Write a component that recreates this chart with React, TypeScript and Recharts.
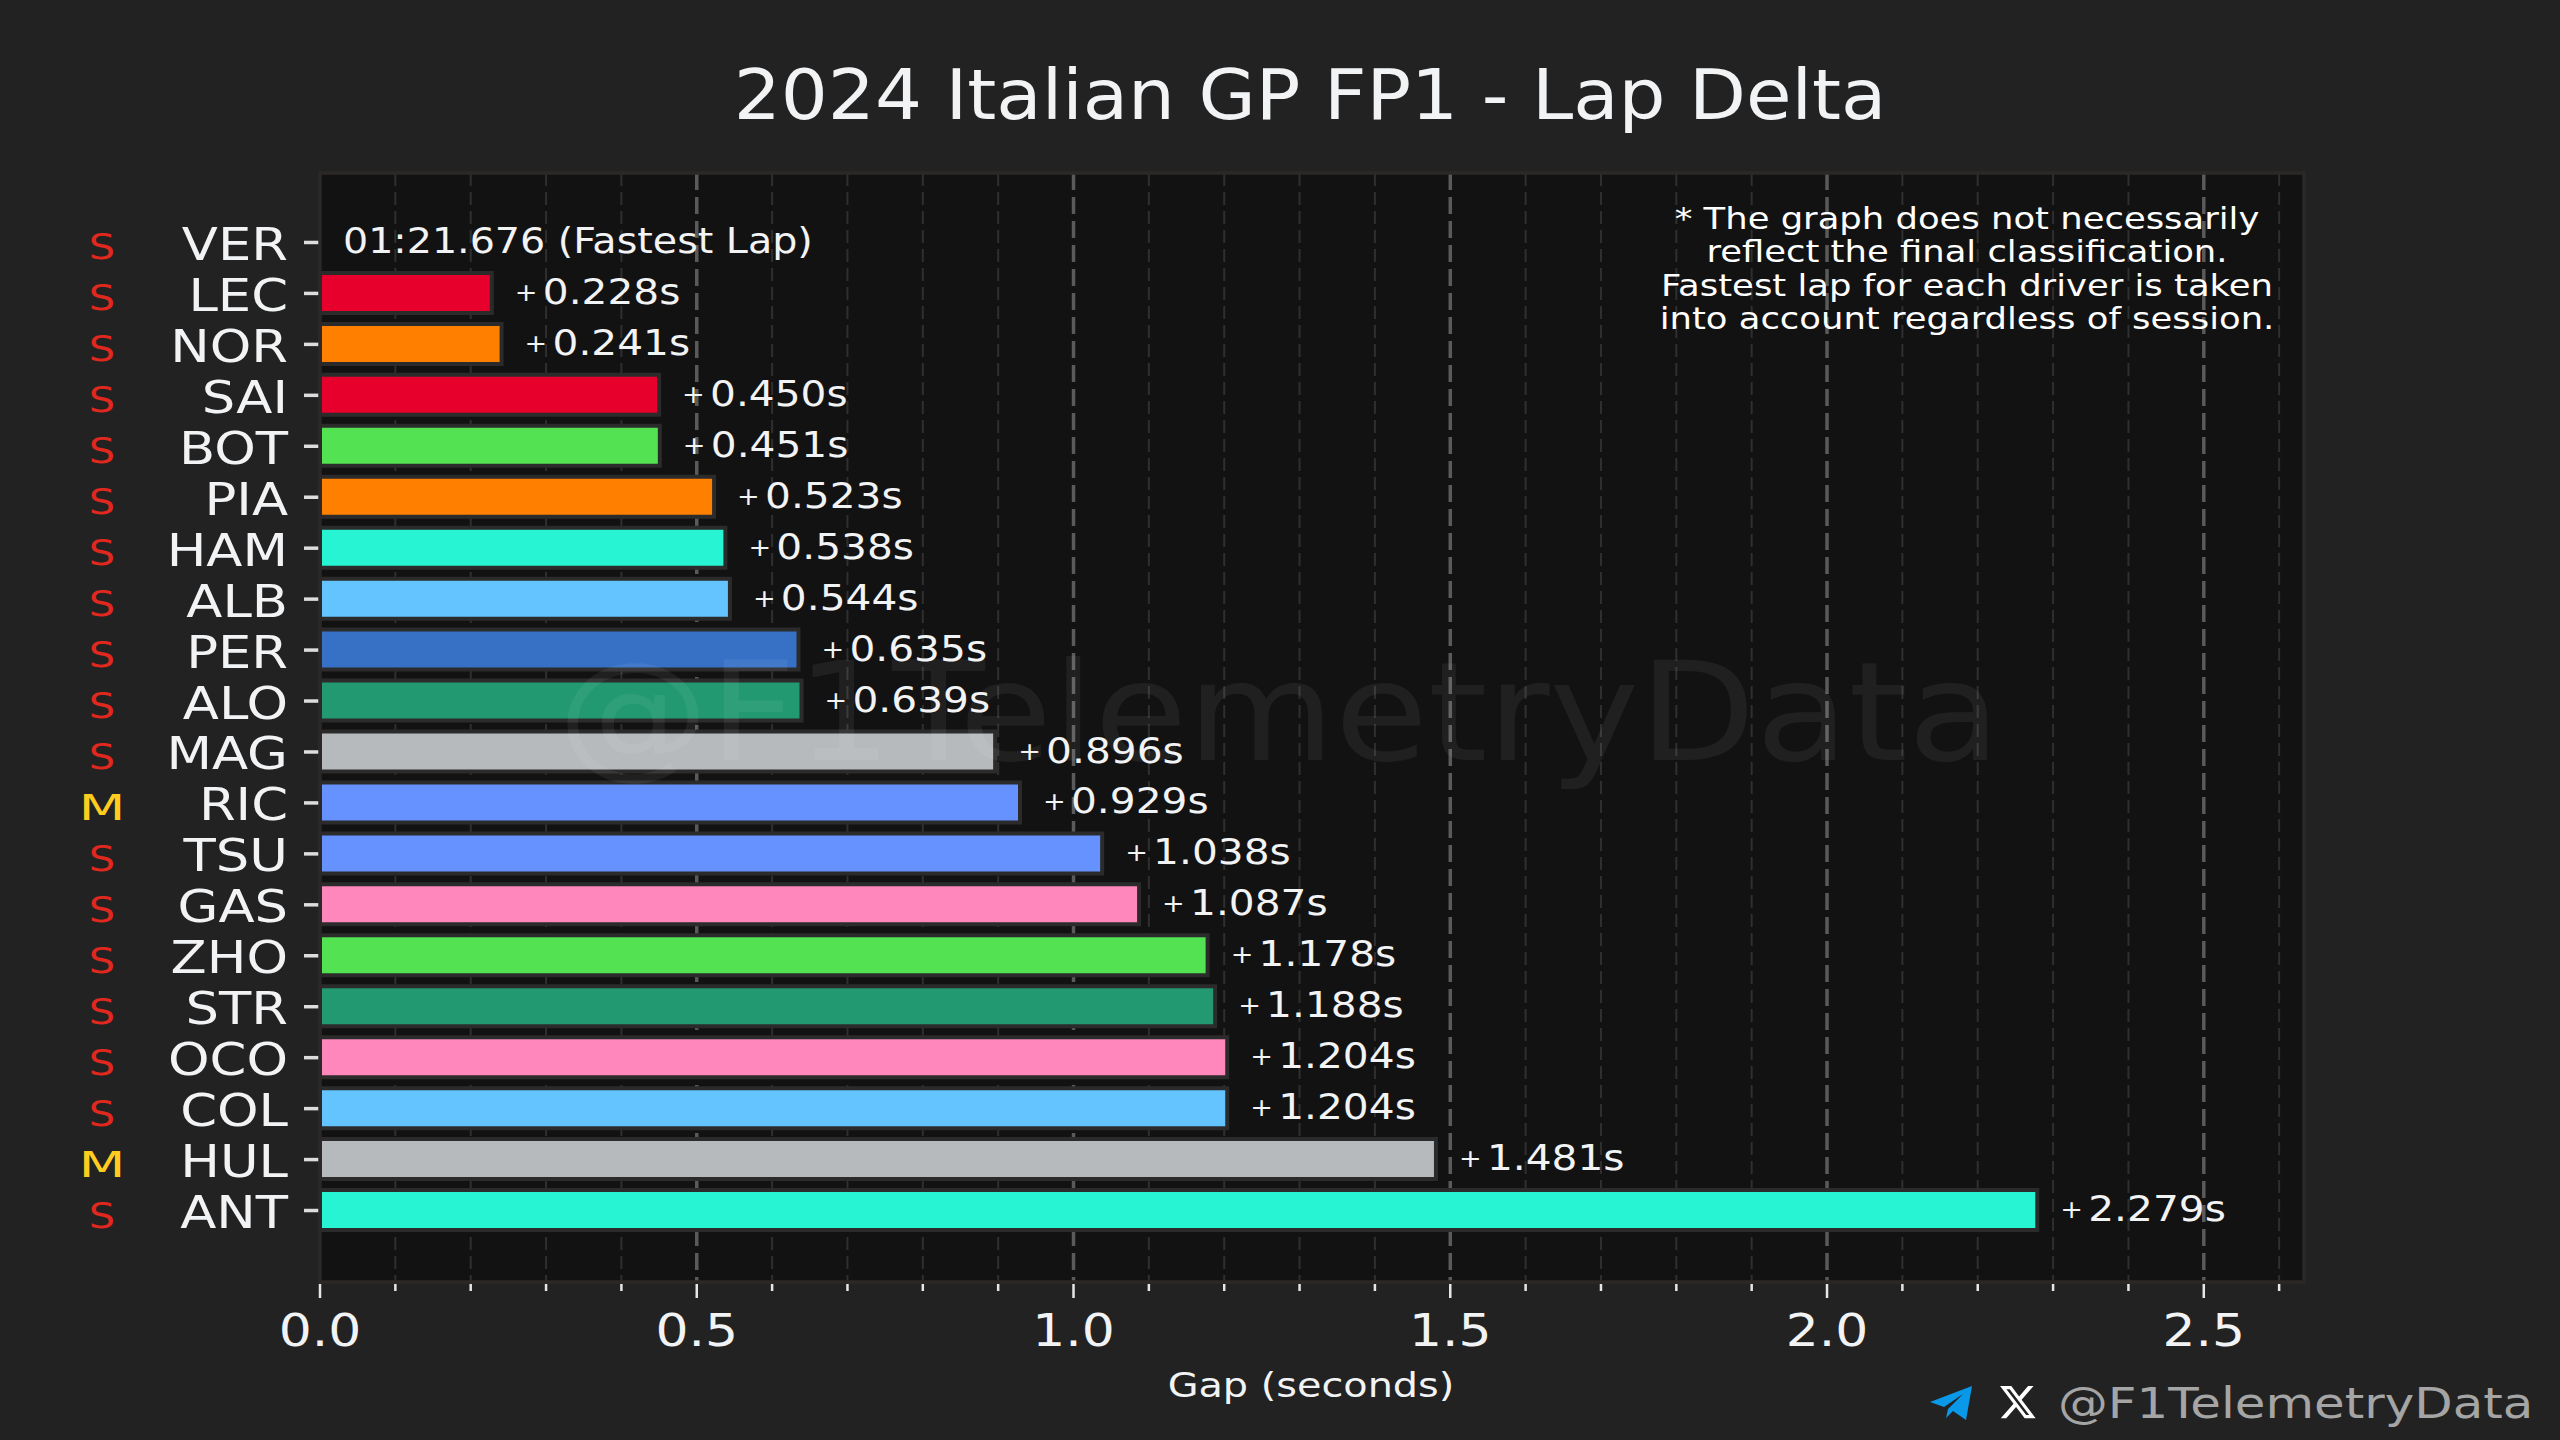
import { BarChart, Bar, XAxis, YAxis, CartesianGrid, Cell, LabelList } from "recharts";

const drivers = ["VER", "LEC", "NOR", "SAI", "BOT", "PIA", "HAM", "ALB", "PER", "ALO", "MAG", "RIC", "TSU", "GAS", "ZHO", "STR", "OCO", "COL", "HUL", "ANT"];
const gaps = [0, 0.228, 0.241, 0.45, 0.451, 0.523, 0.538, 0.544, 0.635, 0.639, 0.896, 0.929, 1.038, 1.087, 1.178, 1.188, 1.204, 1.204, 1.481, 2.279];
const compounds = ["S", "S", "S", "S", "S", "S", "S", "S", "S", "S", "S", "M", "S", "S", "S", "S", "S", "S", "M", "S"];
const barColors = ["#3671c6", "#e8002d", "#ff8000", "#e8002d", "#52e252", "#ff8000", "#27f4d2", "#64c4ff", "#3671c6", "#229971", "#b6babd", "#6692ff", "#6692ff", "#ff87bc", "#52e252", "#229971", "#ff87bc", "#64c4ff", "#b6babd", "#27f4d2"];
const majorTicks = [0, 0.5, 1, 1.5, 2, 2.5];
const minorTicks = [0.1, 0.2, 0.3, 0.4, 0.6, 0.7, 0.8, 0.9, 1.1, 1.2, 1.3, 1.4, 1.6, 1.7, 1.8, 1.9, 2.1, 2.2, 2.3, 2.4, 2.6];
const noteLines = [
  "* The graph does not necessarily",
  "reflect the final classification.",
  "Fastest lap for each driver is taken",
  "into account regardless of session.",
];
const fastestLap = "01:21.676 (Fastest Lap)";
const xMax = 2.633;

const chartData = drivers.map((driver, i) => ({ driver, gap: gaps[i] }));
const allTicks = [...majorTicks, ...minorTicks].sort((a, b) => a - b);

const BG = "#222222";
const PLOT_BG = "#121212";
const BORDER = "#2c2828";
const TEXT = "#f2f3f5";
const FONT = "'DejaVu Sans', sans-serif";

// the original font is wider than anything installed, so text gets stretched sideways
function WideText({ x, y, k = 1, size, fill = TEXT, anchor = "start", children, opacity }: any) {
  return (
    <text
      transform={`translate(${x} ${y}) scale(${k} 1)`}
      fontSize={size}
      fontFamily={FONT}
      fill={fill}
      textAnchor={anchor}
      opacity={opacity}
    >
      {children}
    </text>
  );
}

function DriverTick({ x, y, payload, index }: any) {
  const compound = compounds[index];
  return (
    <g>
      <WideText x={x - 1} y={y + 17.5} k={1.2} size={44} anchor="end">
        {payload.value}
      </WideText>
      <WideText x={102} y={y + 17} k={compound === "M" ? 1.5 : 1.15} size={36} anchor="middle" fill={compound === "M" ? "#ffcc1f" : "#e0281f"}>
        {compound}
      </WideText>
      {/* the fastest driver has no bar, so Recharts gives it no label */}
      {gaps[index] === 0 && (
        <WideText x={343} y={y + 11} k={1.1} size={36}>
          {fastestLap}
        </WideText>
      )}
    </g>
  );
}

function GapTick({ x, y, payload }: any) {
  const major = majorTicks.includes(payload.value);
  return (
    <g>
      <line x1={x} x2={x} y1={y + 2} y2={y + (major ? 16 : 9)} stroke="#e6e6e6" strokeWidth={2.5} />
      {major && (
        <WideText x={x} y={y + 64} k={1.18} size={44} anchor="middle">
          {payload.value.toFixed(1)}
        </WideText>
      )}
    </g>
  );
}

function GapLabel({ x, y, width, height, value }: any) {
  if (value === 0) return null;
  return (
    <WideText x={x + width + 23} y={y + height / 2 + 11} k={1.13} size={36}>
      <tspan fontSize={24} dy={-3}>+ </tspan>
      <tspan dx={-3} dy={3}>{value.toFixed(3)}s</tspan>
    </WideText>
  );
}

function Overlay() {
  return (
    <svg width={2560} height={1440} style={{ position: "absolute", left: 0, top: 0, pointerEvents: "none" }}>
      <rect x={320} y={173} width={1984} height={1109} fill="none" stroke={BORDER} strokeWidth={3.5} />
      <WideText x={1310} y={119} k={1.057} size={70} anchor="middle">
        2024 Italian GP FP1 - Lap Delta
      </WideText>
      {noteLines.map((line, i) => (
        <WideText key={line} x={1967} y={229 + i * 33.4} k={1.18} size={30} anchor="middle" fill="#ffffff">
          {line}
        </WideText>
      ))}
      <WideText x={1279} y={760} k={1.105} size={137} anchor="middle" fill="#ffffff" opacity={0.06}>
        @F1TelemetryData
      </WideText>
      <WideText x={1311} y={1397} k={1.17} size={34} anchor="middle">
        Gap (seconds)
      </WideText>
      <path d="M1972 1386 L1930 1402 L1944 1407 L1963 1394 L1948 1409 L1946 1418 L1953 1411 L1966 1420 Z" fill="#0a98e8" />
      <path
        transform="translate(1998 1382.4) scale(1.65)"
        fill="#ffffff"
        d="M18.244 2.25h3.308l-7.227 8.26 8.502 11.24H16.17l-5.214-6.817L4.99 21.75H1.68l7.73-8.835L1.254 2.25H8.08l4.713 6.231zm-1.161 17.52h1.833L7.084 4.126H5.117z"
      />
      <WideText x={2058} y={1418} k={1.16} size={43} fill="#a5a5a5">
        @F1TelemetryData
      </WideText>
    </svg>
  );
}

export default function App() {
  return (
    <div style={{ position: "absolute", left: 0, top: 0, width: 2560, height: 1440, background: BG, overflow: "hidden" }}>
      <BarChart
        width={2560}
        height={1440}
        data={chartData}
        layout="vertical"
        margin={{ top: 173, right: 256, bottom: 78, left: 0 }}
        barSize={40}
      >
        <CartesianGrid horizontal={false} verticalValues={minorTicks} stroke="#2f2f2f" strokeWidth={2} strokeDasharray="13 6" fill={PLOT_BG} />
        <CartesianGrid horizontal={false} verticalValues={majorTicks.slice(1)} stroke="#5a5a5a" strokeWidth={3.5} strokeDasharray="17 7" />
        <XAxis
          type="number"
          domain={[0, xMax]}
          ticks={allTicks}
          interval={0}
          height={80}
          axisLine={false}
          tickLine={false}
          tickSize={0}
          tickMargin={0}
          tick={<GapTick />}
        />
        <YAxis
          type="category"
          dataKey="driver"
          width={320}
          interval={0}
          padding={{ top: 44, bottom: 46 }}
          axisLine={false}
          tickLine={{ stroke: "#dddddd", strokeWidth: 3.5 }}
          tickSize={16}
          tickMargin={15}
          tick={<DriverTick />}
        />
        <Bar dataKey="gap" stroke="#2b2b2b" strokeWidth={4} isAnimationActive={false}>
          {chartData.map((d, i) => (
            <Cell key={d.driver} fill={barColors[i]} />
          ))}
          <LabelList dataKey="gap" content={<GapLabel />} />
        </Bar>
      </BarChart>
      <Overlay />
    </div>
  );
}
